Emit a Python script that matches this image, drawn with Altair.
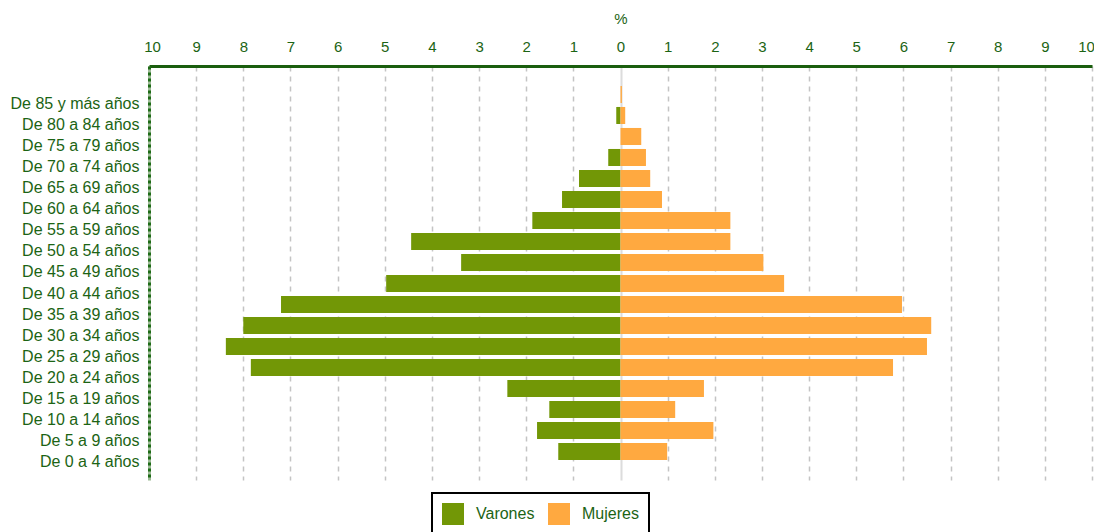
import altair as alt
import pandas as pd

ages = ["De 85 y más años", "De 80 a 84 años", "De 75 a 79 años", "De 70 a 74 años",
        "De 65 a 69 años", "De 60 a 64 años", "De 55 a 59 años", "De 50 a 54 años",
        "De 45 a 49 años", "De 40 a 44 años", "De 35 a 39 años", "De 30 a 34 años",
        "De 25 a 29 años", "De 20 a 24 años", "De 15 a 19 años", "De 10 a 14 años",
        "De 5 a 9 años", "De 0 a 4 años"]
varones = [0.0, 0.09, 0.0, 0.26, 0.88, 1.24, 1.87, 4.44, 3.38, 4.97,
           7.20, 8.00, 8.37, 7.84, 2.40, 1.51, 1.77, 1.32]
mujeres = [0.03, 0.10, 0.44, 0.54, 0.63, 0.88, 2.33, 2.33, 3.03, 3.47,
           5.97, 6.59, 6.50, 5.78, 1.77, 1.16, 1.97, 0.99]
ticks = list(range(-10, 11))

GREEN_TXT = "#1c6414"
rows = []
for a, v, m in zip(ages, varones, mujeres):
    rows.append({"edad": a, "sexo": "Varones", "valor": -v})
    rows.append({"edad": a, "sexo": "Mujeres", "valor": m})
df = pd.DataFrame(rows)

grid_color = {"condition": [{"test": "datum.value == -10", "value": "#9dbb96"},
                            {"test": "datum.value == 0", "value": "#dcdcdc"}],
              "value": "#c4c4c4"}
grid_width = {"condition": [{"test": "datum.value == -10", "value": 3},
                            {"test": "datum.value == 0", "value": 2}],
              "value": 1.5}
grid_dash = {"condition": [{"test": "datum.value == -10 || datum.value == 0", "value": []}],
             "value": [5, 5]}
label_offset = {"condition": [{"test": "datum.value == -10", "value": 3},
                              {"test": "datum.value == 10", "value": -6}],
                "value": 0}

chart = alt.Chart(df).mark_bar().encode(
    x=alt.X("valor:Q",
            scale=alt.Scale(domain=[-10, 10], nice=False, zero=False),
            axis=alt.Axis(orient="top", values=ticks, labelExpr="abs(datum.value)",
                          title="%", titleFontWeight="normal", titleFontSize=15,
                          titleColor=GREEN_TXT, titlePadding=13,
                          labelFontSize=15, labelColor=GREEN_TXT, labelPadding=12,
                          labelOffset=label_offset,
                          ticks=False, domainColor="#1a5e0e", domainWidth=3,
                          grid=True, gridColor=grid_color, gridWidth=grid_width,
                          gridDash=grid_dash, labelFlush=False)),
    y=alt.Y("edad:N", sort=ages,
            scale=alt.Scale(paddingInner=0.19, paddingOuter=0.95),
            axis=alt.Axis(title=None, labelFontSize=16, labelColor=GREEN_TXT,
                          labelOffset=10, labelPadding=10, ticks=False, grid=False,
                          domainColor="#1e6b16", domainWidth=3,
                          domainDash=[3, 3])),
    color=alt.Color("sexo:N",
                    scale=alt.Scale(domain=["Varones", "Mujeres"],
                                    range=["#729706", "#ffa940"]),
                    legend=alt.Legend(title=None, orient="none", direction="horizontal",
                                      legendX=283, legendY=427,
                                      symbolType="square", symbolSize=484,
                                      symbolStrokeWidth=0, symbolOpacity=1,
                                      labelFontSize=16, labelColor=GREEN_TXT,
                                      labelOffset=12, columnPadding=13,
                                      padding=10, strokeColor="black",
                                      fillColor="white"))
).properties(
    width=943, height=414,
    autosize=alt.AutoSizeParams(type="none"),
    padding={"left": 141, "top": 58, "right": 2, "bottom": 60},
).configure(
    font="Liberation Sans"
).configure_view(
    stroke=None
).configure_legend(
    strokeWidth=2
)

chart.save("out.html", embed_options={"renderer": "svg", "actions": False})
